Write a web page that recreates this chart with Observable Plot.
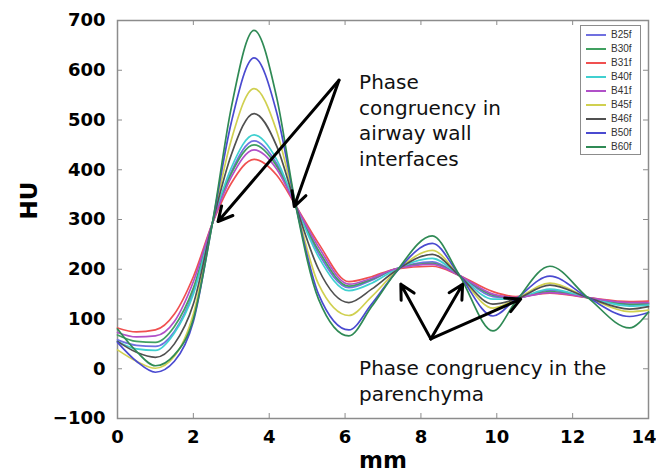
<!DOCTYPE html>
<html>
<head>
<meta charset="utf-8">
<script src="https://cdn.jsdelivr.net/npm/d3@7"></script>
<script src="https://cdn.jsdelivr.net/npm/@observablehq/plot@0.6"></script>
<style>
  body { margin: 0; background: white; }
  #wrap { position: relative; width: 656px; height: 474px; }
  #legend { position: absolute; left: 580px; top: 25px; width: 61px; height: 130px;
            border: 1.5px solid #8c8c8c; background: white; box-sizing: border-box; padding-top: 2px; }
  .row { position: relative; height: 14px; }
  .sw { position: absolute; left: 5px; top: 6px; width: 20px; height: 2px; }
  .lb { position: absolute; left: 30px; top: 0px; font: 10px "Liberation Sans", Arial, sans-serif; line-height: 14px; color: #333; }
</style>
</head>
<body>
<div id="wrap"></div>
<script>
// positions along the profile (mm)
const X = [0, 0.5, 1, 1.5, 2, 2.5, 3, 3.6, 4.2, 4.7, 5.3, 6.1, 6.7, 7.3, 8.3, 9.0, 9.9, 10.5, 11.4, 12.4, 13.5, 14];

const seriesNames = ["B25f", "B30f", "B31f", "B40f", "B41f", "B45f", "B46f", "B50f", "B60f"];
const seriesColors = ["#7070e0", "#40a060", "#f05050", "#40d0d0", "#b050c8", "#d0d050", "#505050", "#4a4ad0", "#2f8a55"];

// HU values per kernel
const B25f = [58, 47, 45, 75, 155, 292, 396, 458, 412, 328, 232, 163, 178, 200, 215, 188, 145, 142, 158, 143, 128, 130];
const B30f = [68, 55, 53, 85, 162, 292, 392, 450, 407, 328, 238, 166, 180, 200, 212, 188, 148, 143, 155, 143, 130, 131];
const B31f = [82, 74, 78, 110, 185, 292, 373, 421, 389, 328, 252, 175, 185, 200, 206, 188, 155, 145, 152, 143, 135, 136];
const B40f = [55, 40, 37, 72, 150, 292, 404, 470, 420, 328, 225, 157, 172, 198, 222, 188, 140, 142, 160, 143, 126, 128];
const B41f = [73, 64, 66, 95, 175, 292, 385, 440, 401, 328, 245, 170, 182, 200, 210, 188, 150, 143, 153, 143, 133, 133];
const B45f = [38, 15, 1, 25, 110, 292, 460, 563, 477, 328, 170, 107, 145, 192, 238, 188, 122, 140, 172, 143, 115, 118];
const B46f = [55, 33, 23, 50, 130, 292, 430, 513, 447, 328, 200, 133, 160, 195, 230, 188, 130, 140, 168, 143, 120, 125];
const B50f = [53, 15, -7, 15, 95, 292, 495, 625, 514, 328, 150, 78, 130, 190, 252, 190, 106, 140, 186, 143, 105, 113];
const B60f = [80, 35, 6, 28, 100, 292, 525, 680, 544, 328, 140, 66, 125, 190, 267, 190, 76, 135, 206, 143, 82, 114];

const xTicks = [0, 2, 4, 6, 8, 10, 12, 14];
const yTicks = [-100, 0, 100, 200, 300, 400, 500, 600, 700];

// annotations (data units)
const arrowFrom = [[5.84, 580], [5.84, 580], [8.26, 60], [8.26, 60], [8.26, 60]];
const arrowTo   = [[2.65, 296], [4.66, 326], [7.47, 170], [9.1, 170], [10.63, 140]];
const noteText = ["Phase\ncongruency in\nairway wall\ninterfaces", "Phase congruency in the\nparenchyma"];
const noteX = [6.37, 6.37];
const noteY = [599, 23];

const allSeries = [B25f, B30f, B31f, B40f, B41f, B45f, B46f, B50f, B60f];
const rows = seriesNames.flatMap((n, i) => X.map((x, j) => ({x, y: allSeries[i][j], s: n})));
const arrows = arrowFrom.map((f, i) => ({x1: f[0], y1: f[1], x2: arrowTo[i][0], y2: arrowTo[i][1]}));
const notes = noteText.map((t, i) => ({t, x: noteX[i], y: noteY[i]}));

const W = 656, H = 474, mL = 117, mR = 8, mT = 20, mB = 56;
const innerW = W - mL - mR, innerH = H - mT - mB, tk = 5;
const tickFont = {fontFamily: "DejaVu Sans", fontWeight: "bold", fontSize: 18};
const tickColor = "#8c8c8c";

const chart = Plot.plot({
  width: W, height: H,
  marginLeft: mL, marginRight: mR, marginTop: mT, marginBottom: mB,
  x: {domain: [0, 14]},
  y: {domain: [-100, 700]},
  color: {domain: seriesNames, range: seriesColors},
  style: {background: "white", color: "black", overflow: "visible"},
  marks: [
    // tick labels
    Plot.axisX({ticks: xTicks.slice(0, -1), tickSize: 0, tickPadding: 12, label: null, ...tickFont}),
    Plot.text(xTicks.slice(-1), {x: d => d, frameAnchor: "bottom", textAnchor: "end", lineAnchor: "top", dy: 12, dx: 8, ...tickFont}),
    Plot.axisY({ticks: yTicks, tickSize: 0, tickPadding: 12, label: null, ...tickFont}),
    // inward tick marks on all four sides
    Plot.tickX(xTicks, {x: d => d, insetTop: innerH - tk, stroke: tickColor}),
    Plot.tickX(xTicks, {x: d => d, insetBottom: innerH - tk, stroke: tickColor}),
    Plot.tickY(yTicks, {y: d => d, insetRight: innerW - tk, stroke: tickColor}),
    Plot.tickY(yTicks, {y: d => d, insetLeft: innerW - tk, stroke: tickColor}),
    Plot.frame({stroke: tickColor, strokeWidth: 1.5}),
    Plot.line(rows, {x: "x", y: "y", z: "s", stroke: "s", strokeWidth: 1.7, curve: "monotone-x"}),
    Plot.arrow(arrows, {x1: "x1", y1: "y1", x2: "x2", y2: "y2", stroke: "black", strokeWidth: 3, headLength: 8, headAngle: 55}),
    Plot.text(notes, {x: "x", y: "y", text: "t", textAnchor: "start", lineAnchor: "top", lineHeight: 1.28, fontFamily: "DejaVu Sans", fontSize: 20, fill: "#111"}),
    Plot.text(["HU"], {frameAnchor: "left", dx: -88, rotate: -90, fontFamily: "DejaVu Sans", fontWeight: "bold", fontSize: 23}),
    Plot.text(["mm"], {frameAnchor: "bottom", dy: 49, fontFamily: "DejaVu Sans", fontWeight: "bold", fontSize: 23})
  ]
});

const wrap = document.getElementById("wrap");
wrap.appendChild(chart);

const legend = document.createElement("div");
legend.id = "legend";
seriesNames.forEach((n, i) => {
  const r = document.createElement("div"); r.className = "row";
  const sw = document.createElement("div"); sw.className = "sw"; sw.style.background = seriesColors[i];
  const lb = document.createElement("div"); lb.className = "lb"; lb.textContent = n;
  r.appendChild(sw); r.appendChild(lb); legend.appendChild(r);
});
wrap.appendChild(legend);
</script>
</body>
</html>
